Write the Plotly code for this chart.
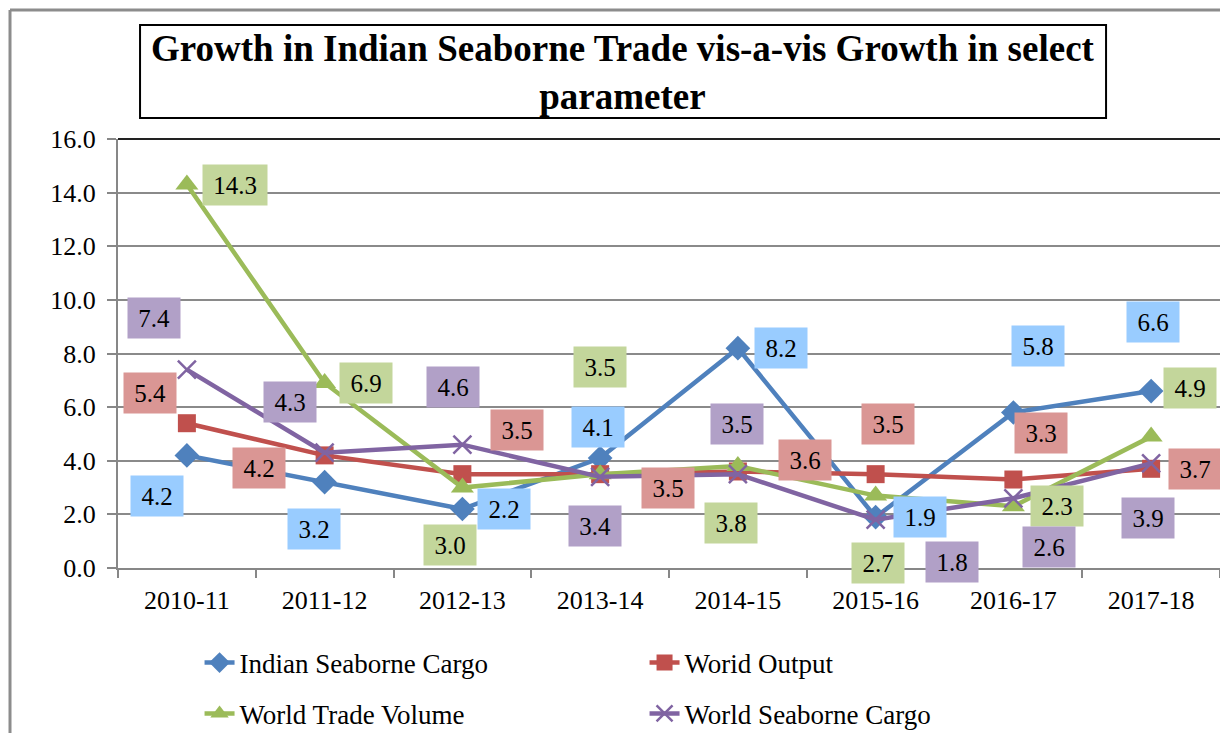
import plotly.graph_objects as go

# data
years = ["2010-11", "2011-12", "2012-13", "2013-14", "2014-15", "2015-16", "2016-17", "2017-18"]
indian_cargo = [4.2, 3.2, 2.2, 4.1, 8.2, 1.9, 5.8, 6.6]
world_output = [5.4, 4.2, 3.5, 3.5, 3.6, 3.5, 3.3, 3.7]
world_trade = [14.3, 6.9, 3.0, 3.5, 3.8, 2.7, 2.3, 4.9]
world_seaborne = [7.4, 4.3, 4.6, 3.4, 3.5, 1.8, 2.6, 3.9]

# label placement (pixel offsets from the point, Excel-style)
off_indian = [(-30, 41), (-11, 47), (42, 0), (-2, -31), (43, 0), (44, 0), (25, -66), (2, -69)]
off_output = [(-37, -30), (-66, 13), (55, -44), (68, 14), (67, -11), (12, -50), (28, -47), (44, 0)]
off_trade = [(48, 0), (41, 0), (-12, 57), (0, -107), (-7, 57), (2, 67), (44, 0), (39, -49)]
off_seaborne = [(-33, -52), (-35, -51), (-9, -58), (-5, 49), (-1, -50), (76, 42), (36, 49), (-3, 55)]

FONT = "Liberation Serif"

series = [
    ("Indian Seaborne Cargo", indian_cargo, "#4F81BD", "#99CCFF", dict(symbol="diamond", size=19), off_indian, "legend"),
    ("Worid Output", world_output, "#C0504D", "#DA9694", dict(symbol="square", size=18), off_output, "legend"),
    ("World Trade Volume", world_trade, "#9BBB59", "#C3D69B", dict(symbol="triangle-up", size=20), off_trade, "legend2"),
    ("World Seaborne Cargo", world_seaborne, "#8064A2", "#B1A0C7", dict(symbol="x-thin", size=18), off_seaborne, "legend2"),
]

fig = go.Figure()
annotations = []
for name, vals, col, boxcol, mk, offs, leg in series:
    marker = dict(color=col, **mk)
    if mk["symbol"] == "x-thin":
        marker["line"] = dict(color=col, width=2.5)
    fig.add_trace(go.Scatter(x=years, y=vals, name=name, mode="lines+markers",
                             line=dict(color=col, width=4.5), marker=marker, legend=leg))
    for yr, v, (dx, dy) in zip(years, vals, offs):
        txt = f"{v:.1f}"
        annotations.append(dict(x=yr, y=v, xref="x", yref="y", text=txt, showarrow=False,
                                xshift=dx, yshift=-dy, width=50 if len(txt) == 3 else 62, height=38,
                                bgcolor=boxcol, font=dict(family=FONT, size=25, color="black")))

annotations.append(dict(x=0.458, y=1.156, xref="paper", yref="paper", xanchor="center", yanchor="middle",
                        text="<b>Growth in Indian Seaborne Trade vis-a-vis Growth in select<br>parameter</b>",
                        showarrow=False, font=dict(family=FONT, size=37, color="black")))

shapes = [
    # title box
    dict(type="rect", xref="paper", yref="paper", x0=0.020, x1=0.8966, y0=1.049, y1=1.2657,
         line=dict(color="black", width=2), fillcolor="white", layer="below"),
    # outer frame
    dict(type="line", xref="paper", yref="paper", x0=-0.098, x1=1.01, y0=1.3007, y1=1.3007,
         line=dict(color="#8c8c8c", width=3)),
    dict(type="line", xref="paper", yref="paper", x0=-0.098, x1=-0.098, y0=1.3007, y1=-0.43,
         line=dict(color="#8c8c8c", width=3)),
    # top edge of plot area
    dict(type="line", xref="paper", yref="paper", x0=0, x1=1, y0=1, y1=1,
         line=dict(color="#222222", width=2)),
]

fig.update_layout(
    width=1220, height=733,
    margin=dict(l=118, r=0, t=139, b=165, autoexpand=False),
    plot_bgcolor="white", paper_bgcolor="white",
    font=dict(family=FONT, size=26, color="black"),
    annotations=annotations, shapes=shapes,
    legend=dict(orientation="h", x=0.074, y=-0.2214, xanchor="left", yanchor="middle",
                entrywidth=400, entrywidthmode="pixels", font=dict(family=FONT, size=27)),
    legend2=dict(orientation="h", x=0.074, y=-0.340, xanchor="left", yanchor="middle",
                 entrywidth=400, entrywidthmode="pixels", font=dict(family=FONT, size=27)),
)

fig.update_xaxes(type="category", showgrid=False, showline=True, linecolor="#878787", linewidth=2,
                 ticks="outside", tickson="boundaries", ticklen=8, tickcolor="#878787", tickwidth=2,
                 ticklabelstandoff=8,
                 tickfont=dict(family=FONT, size=26, color="black"), range=[-0.5, 7.5])
fig.update_yaxes(range=[0, 16], dtick=2, tickformat=".1f", showgrid=True, gridcolor="#8a8a8a", gridwidth=2,
                 showline=True, linecolor="#878787", linewidth=2, ticks="outside", ticklen=9,
                 tickcolor="#878787", tickwidth=2, zeroline=False, ticklabelstandoff=6,
                 tickfont=dict(family=FONT, size=26, color="black"))

fig.write_html("out.html", config={"displayModeBar": False},
               post_script="document.body.style.margin='0';document.body.style.overflow='hidden';")
